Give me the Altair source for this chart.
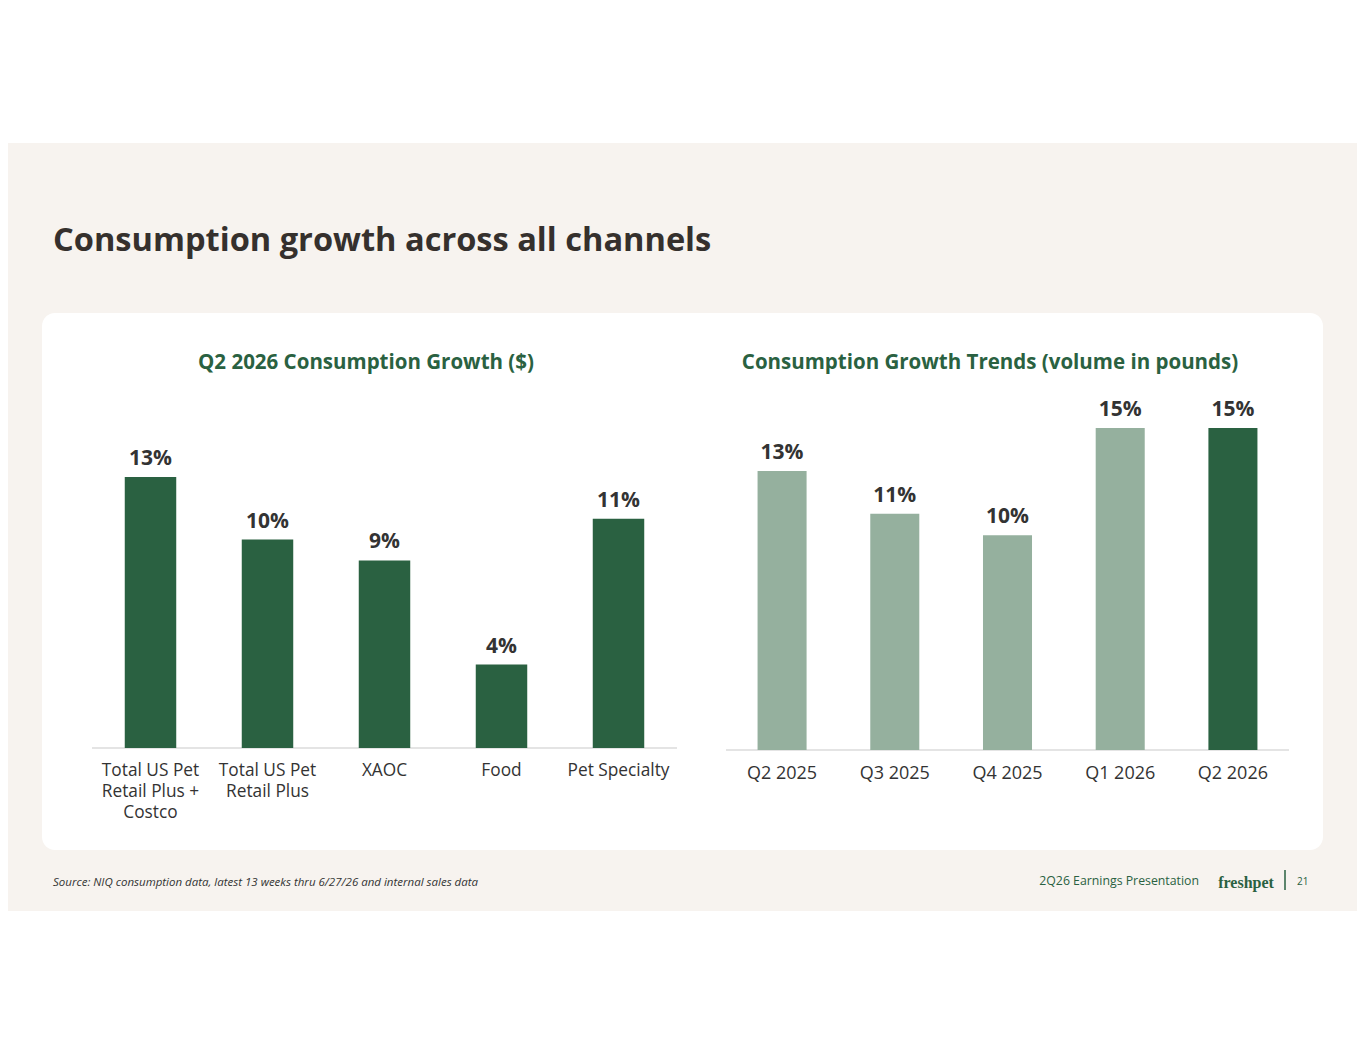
import altair as alt
import pandas as pd

# ---- data ----
left_categories = ["Total US Pet\nRetail Plus +\nCostco", "Total US Pet\nRetail Plus", "XAOC", "Food", "Pet Specialty"]
left_values = [13, 10, 9, 4, 11]
left_labels = ["13%", "10%", "9%", "4%", "11%"]

right_categories = ["Q2 2025", "Q3 2025", "Q4 2025", "Q1 2026", "Q2 2026"]
right_values = [13, 11, 10, 15, 15]
right_labels = ["13%", "11%", "10%", "15%", "15%"]
right_period = ["past", "past", "past", "past", "current"]

title_text = "Consumption growth across all channels"
left_title = "Q2 2026 Consumption Growth ($)"
right_title = "Consumption Growth Trends (volume in pounds)"
source_text = "Source:  NIQ consumption data, latest 13 weeks thru 6/27/26 and internal sales data"
footer_text = "2Q26 Earnings Presentation"
logo_text = "freshpet"
page_text = "21"

FONT = "Open Sans"
DARK = "#2a6141"
LIGHT = "#95b09e"
TEXT = "#333333"
BEIGE = "#f7f3ef"

W, H = 1349, 1039
O = 8  # page margin offset

left_df = pd.DataFrame({"cat": left_categories, "val": left_values, "lab": left_labels})
right_df = pd.DataFrame({"cat": right_categories, "val": right_values, "lab": right_labels, "period": right_period})
one = pd.DataFrame({"a": [0]})

def px(v):
    return v - O

# ---- decorations ----
band = alt.Chart(one).mark_rect(color=BEIGE).encode(
    x=alt.value(-O), x2=alt.value(W + O), y=alt.value(px(143)), y2=alt.value(px(911)))
card = alt.Chart(one).mark_rect(color="white", cornerRadius=13).encode(
    x=alt.value(px(42)), x2=alt.value(px(1323)), y=alt.value(px(313)), y2=alt.value(px(850)))

def txt(s, x, y, size, color=TEXT, weight="normal", align="left", style="normal", font=FONT):
    return alt.Chart(one).mark_text(
        text=s, fontSize=size, color=color, fontWeight=weight, align=align,
        baseline="alphabetic", font=font, fontStyle=style
    ).encode(x=alt.value(px(x)), y=alt.value(px(y)))

title = txt(title_text, 53, 251, 32.6, color="#35302d", weight="bold")
lt = txt(left_title, 366, 369, 20.5, color=DARK, weight="bold", align="center")
rt = txt(right_title, 990, 369, 20.5, color=DARK, weight="bold", align="center")
src = txt(source_text, 53, 886, 11.5, color=TEXT, style="italic")
foot = txt(footer_text, 1199, 885, 12.3, color=DARK, align="right")
logo = txt(logo_text, 1246, 888, 16, color=DARK, weight="bold", align="center", font="Liberation Serif")
sep = alt.Chart(one).mark_rule(color=DARK, strokeWidth=1.5).encode(
    x=alt.value(px(1285)), y=alt.value(px(870)), y2=alt.value(px(890)))
pg = txt(page_text, 1297, 885, 10, color=DARK)

# ---- left chart ----
lx = alt.X("cat:N", sort=left_categories, axis=None,
           scale=alt.Scale(range=[px(92), px(677)], paddingInner=0.56, paddingOuter=0.28))
ly = alt.Y("val:Q", axis=None, scale=alt.Scale(domain=[0, 13], range=[px(748), px(477)], nice=False, zero=True))
left_base = alt.Chart(left_df)
left_bars = left_base.mark_bar(color=DARK).encode(x=lx, y=ly)
left_vals = left_base.mark_text(fontSize=21, fontWeight="bold", color=TEXT, font=FONT, baseline="bottom", dy=-8).encode(
    x=lx, y=ly, text="lab:N")
left_cats = left_base.mark_text(fontSize=17.3, color=TEXT, font=FONT, baseline="top", lineBreak="\n", lineHeight=21).encode(
    x=lx, y=alt.value(px(762)), text="cat:N")
left_axis = alt.Chart(one).mark_rule(color="#c9c9c9", strokeWidth=1).encode(
    x=alt.value(px(92)), x2=alt.value(px(677)), y=alt.value(px(748)))
left_chart = alt.layer(left_bars, left_vals, left_cats)

# ---- right chart ----
rx = alt.X("cat:N", sort=right_categories, axis=None,
           scale=alt.Scale(range=[px(726), px(1289)], paddingInner=0.565, paddingOuter=0.28))
ry = alt.Y("val:Q", axis=None, scale=alt.Scale(domain=[0, 15], range=[px(750), px(428)], nice=False, zero=True))
right_base = alt.Chart(right_df)
right_bars = right_base.mark_bar().encode(
    x=rx, y=ry,
    color=alt.Color("period:N", legend=None, scale=alt.Scale(domain=["past", "current"], range=[LIGHT, DARK])))
right_vals = right_base.mark_text(fontSize=21, fontWeight="bold", color=TEXT, font=FONT, baseline="bottom", dy=-8).encode(
    x=rx, y=ry, text="lab:N")
right_cats = right_base.mark_text(fontSize=18, color=TEXT, font=FONT, baseline="top").encode(
    x=rx, y=alt.value(px(765)), text="cat:N")
right_axis = alt.Chart(one).mark_rule(color="#c9c9c9", strokeWidth=1).encode(
    x=alt.value(px(726)), x2=alt.value(px(1289)), y=alt.value(px(750)))
right_chart = alt.layer(right_bars, right_vals, right_cats)

chart = alt.layer(
    band, card, title, lt, rt, src, foot, logo, sep, pg,
    left_axis, right_axis, left_chart, right_chart
).resolve_scale(x="independent", y="independent", color="independent").properties(
    width=W, height=H, padding=0, background="white", autosize=alt.AutoSizeParams(type="none")
).configure_view(stroke=None, strokeWidth=0)

chart.save("out.html", embed_options={"renderer": "svg", "actions": False})
